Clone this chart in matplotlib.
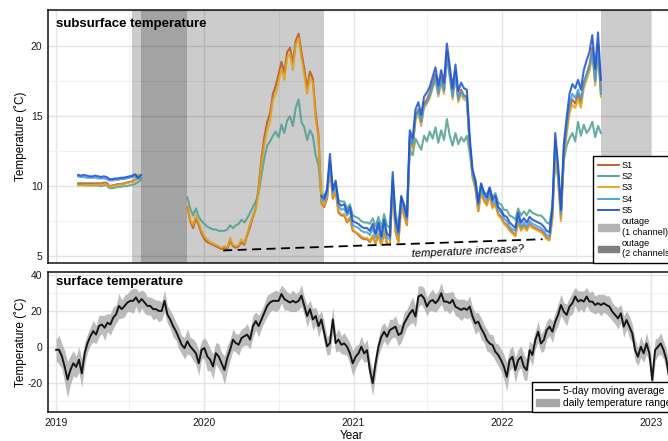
import pandas as pd
import matplotlib
matplotlib.use('Agg')
import matplotlib.pyplot as plt
import matplotlib.dates as mdates
from matplotlib.ticker import MultipleLocator
from matplotlib.lines import Line2D
from matplotlib.patches import Patch

plt.rcParams['font.family'] = ['Liberation Sans', 'DejaVu Sans']
plt.rcParams['axes.unicode_minus'] = False

# ---------------- subsurface temperature (weekly readings, degC) ----------------
start_a = '2019-02-25'   # first deployment
start_b = '2019-11-20'   # S1-S3 back after outage
start_c = '2020-10-14'   # S4, S5 back after outage

s1_a = [10.2, 10.2, 10.2, 10.2, 10.2, 10.2, 10.2, 10.2, 10.2, 10.25, 10.25, 10.0, 10.05, 10.1,
        10.15, 10.15, 10.2, 10.25, 10.3, 10.35, 10.45, 10.6, 10.55]
s2_a = [10.1, 10.1, 10.1, 10.05, 10.05, 10.05, 10.05, 10.05, 10.0, 10.05, 10.05, 9.85, 9.85, 9.9,
        9.95, 9.95, 10.0, 10.0, 10.05, 10.1, 10.15, 10.3, 10.4]
s3_a = [10.05, 10.05, 10.05, 10.05, 10.05, 10.05, 10.1, 10.1, 10.1, 10.1, 10.1, 9.95, 10.0, 10.05,
        10.1, 10.1, 10.15, 10.2, 10.25, 10.3, 10.4, 10.85, 10.7]
s4_a = [10.7, 10.65, 10.65, 10.6, 10.6, 10.6, 10.6, 10.55, 10.55, 10.55, 10.5, 10.4, 10.4, 10.45,
        10.45, 10.5, 10.5, 10.55, 10.6, 10.65, 10.7, 10.5, 10.6]
s5_a = [10.8, 10.75, 10.8, 10.75, 10.7, 10.7, 10.75, 10.7, 10.65, 10.7, 10.65, 10.5, 10.5, 10.55,
        10.55, 10.6, 10.6, 10.65, 10.7, 10.75, 10.85, 10.6, 10.8]

s1_b = [8.5, 7.5, 7.0, 7.7, 7.2, 6.6, 6.2, 6.0, 5.9, 5.8,
        5.7, 5.6, 5.5, 5.6, 5.5, 6.1, 5.7, 5.6, 5.7, 6.0,
        5.8, 6.5, 7.1, 7.8, 8.4, 9.9, 12.0, 13.5, 14.6, 15.2,
        16.6, 17.2, 18.0, 18.9, 18.1, 19.6, 19.9, 18.8, 20.4, 20.9,
        19.6, 18.4, 17.0, 18.2, 17.7, 15.2, 13.6,
        8.8, 8.5, 9.1, 11.6, 9.1, 9.6, 8.1, 7.9, 7.9, 7.4,
        7.7, 6.8, 6.7, 6.5, 6.3, 6.2, 6.2, 6.0, 6.4, 5.9,
        6.5, 5.8, 6.7, 5.9, 5.8, 10.2, 6.7, 6.0, 8.6, 7.9,
        7.2, 13.4, 12.8, 15.0, 15.5, 14.6, 15.9, 16.2, 16.7, 17.3,
        18.0, 16.7, 17.8, 16.9, 19.6, 18.1, 16.5, 18.2, 16.3, 16.9,
        16.5, 16.4, 13.0, 10.7, 9.9, 8.2, 9.6, 9.0, 8.7, 9.4,
        8.5, 8.8, 8.0, 7.8, 7.4, 7.2, 6.9, 6.7, 6.5, 7.5,
        6.9, 7.2, 6.9, 7.3, 7.1, 7.0, 6.9, 6.8, 6.6, 6.3,
        6.2, 7.8, 12.9, 10.6, 7.7, 12.3, 14.0, 15.6, 16.2, 15.9,
        16.6, 15.9, 17.4, 18.0, 18.7, 19.9, 17.6, 20.1, 16.9]
s2_b = [9.2, 8.4, 7.9, 8.4, 7.8, 7.5, 7.3, 7.1, 7.0, 6.9,
        6.9, 6.8, 6.8, 6.8, 6.9, 7.2, 7.0, 7.2, 7.3, 7.6,
        7.4, 7.7, 8.1, 8.5, 8.9, 9.5, 10.8, 12.0, 12.9, 13.2,
        13.6, 13.9, 13.5, 14.4, 13.8, 14.7, 15.0, 14.3, 15.6, 16.2,
        14.6, 14.2, 13.3, 14.0, 13.6, 12.2, 11.5,
        9.5, 9.3, 9.7, 11.6, 9.8, 10.2, 9.0, 8.9, 8.9, 8.4,
        8.7, 7.9, 7.8, 7.7, 7.5, 7.4, 7.4, 7.3, 7.7, 7.1,
        7.8, 7.0, 8.0, 7.2, 7.0, 10.2, 8.0, 7.2, 9.2, 8.7,
        8.2, 12.6, 12.2, 13.4, 13.0, 12.6, 13.6, 13.2, 13.9, 13.4,
        14.2, 13.1, 14.0, 13.3, 14.8, 13.6, 12.9, 13.8, 13.0, 13.5,
        13.2, 13.6, 12.4, 10.9, 10.4, 9.0, 10.1, 9.6, 9.4, 9.9,
        9.2, 9.5, 8.8, 8.7, 8.3, 8.3, 7.9, 7.8, 7.6, 8.4,
        7.9, 8.2, 7.9, 8.3, 8.1, 8.0, 7.9, 7.9, 7.7, 7.4,
        7.3, 8.6, 12.0, 10.8, 8.6, 11.8, 12.9, 13.4, 13.8, 13.2,
        14.6, 13.6, 14.4, 13.8, 14.1, 14.6, 13.5, 14.3, 13.8]
s3_b = [8.6, 7.6, 7.2, 7.9, 7.4, 6.8, 6.4, 6.2, 6.0, 5.9,
        5.8, 5.7, 5.6, 5.7, 5.6, 6.3, 5.8, 5.7, 5.8, 6.2,
        5.9, 6.6, 7.3, 7.9, 8.3, 9.6, 11.6, 13.0, 14.0, 14.6,
        16.2, 16.6, 17.5, 18.4, 17.6, 19.2, 19.5, 18.3, 20.1, 20.6,
        19.2, 18.0, 16.6, 17.8, 17.4, 14.8, 13.4,
        8.9, 8.6, 9.2, 11.4, 9.2, 9.7, 8.2, 8.0, 8.0, 7.5,
        7.8, 6.9, 6.7, 6.6, 6.4, 6.3, 6.3, 6.1, 6.5, 5.9,
        6.6, 5.8, 6.8, 5.9, 5.8, 10.0, 6.8, 6.0, 8.5, 7.9,
        7.2, 13.2, 12.6, 14.7, 15.2, 14.3, 15.6, 15.9, 16.3, 17.0,
        17.6, 16.4, 17.4, 16.6, 19.2, 17.8, 16.2, 17.8, 16.0, 16.6,
        16.2, 16.1, 12.9, 10.6, 9.8, 8.2, 9.5, 8.9, 8.6, 9.3,
        8.4, 8.7, 7.9, 7.7, 7.3, 7.1, 6.8, 6.6, 6.4, 7.4,
        6.8, 7.1, 6.8, 7.2, 7.0, 6.9, 6.8, 6.7, 6.5, 6.2,
        6.1, 7.7, 12.6, 10.4, 7.5, 12.0, 13.7, 15.2, 15.8, 15.6,
        16.2, 15.6, 17.0, 17.6, 18.2, 19.4, 17.2, 19.5, 16.4]
s4_c = [9.1, 8.9, 9.5, 11.8, 9.5, 10.1, 8.6, 8.3, 8.4, 7.9,
        8.2, 7.2, 7.1, 7.0, 6.8, 6.7, 6.7, 6.5, 7.0, 6.3,
        7.1, 6.2, 7.3, 6.3, 6.2, 10.5, 7.3, 6.5, 9.0, 8.3,
        7.6, 13.6, 13.0, 15.0, 15.4, 14.6, 15.8, 16.0, 16.5, 17.1,
        17.8, 16.6, 17.6, 16.8, 19.3, 17.9, 16.4, 18.0, 16.2, 16.8,
        16.4, 16.3, 13.1, 10.9, 10.1, 8.6, 9.9, 9.3, 9.0, 9.6,
        8.8, 9.0, 8.3, 8.1, 7.7, 7.5, 7.1, 6.9, 6.8, 7.8,
        7.1, 7.4, 7.1, 7.5, 7.3, 7.2, 7.1, 7.0, 6.8, 6.5,
        6.4, 8.2, 13.3, 11.1, 8.0, 12.5, 14.3, 15.9, 16.6, 16.3,
        16.9, 16.2, 17.4, 18.0, 18.5, 19.6, 17.5, 19.8, 16.6]
s5_c = [9.3, 9.1, 9.8, 12.3, 9.7, 10.4, 8.8, 8.6, 8.7, 8.1,
        8.5, 7.5, 7.4, 7.3, 7.1, 7.0, 7.0, 6.8, 7.3, 6.6,
        7.4, 6.4, 7.6, 6.6, 6.4, 11.0, 7.6, 6.7, 9.3, 8.6,
        7.8, 14.0, 13.4, 15.5, 16.0, 15.1, 16.4, 16.7, 17.1, 17.8,
        18.5, 17.2, 18.3, 17.4, 20.2, 18.6, 17.0, 18.7, 16.8, 17.4,
        17.0, 16.9, 13.5, 11.2, 10.4, 8.8, 10.2, 9.5, 9.2, 9.9,
        9.0, 9.3, 8.5, 8.3, 7.9, 7.8, 7.4, 7.2, 7.0, 8.1,
        7.4, 7.7, 7.4, 7.8, 7.6, 7.5, 7.4, 7.3, 7.1, 6.8,
        6.7, 8.5, 13.8, 11.5, 8.3, 13.0, 14.9, 16.6, 17.3, 17.0,
        17.6, 16.9, 18.3, 19.0, 19.6, 20.8, 18.4, 21.0, 17.6]

sensor_names = ['S1', 'S2', 'S3', 'S4', 'S5']
sensor_colors = ['#B9561F', '#4E9E92', '#E3A21A', '#3C9DE2', '#1D4ED0']

outage_1ch = [('2019-07-07', '2020-10-20'), ('2022-09-01', '2022-12-31')]
outage_2ch = [('2019-07-29', '2019-11-20')]

trend_dates = ['2020-02-16', '2022-04-10']
trend_vals = [5.4, 6.2]

# ---------------- surface temperature (weekly samples, degC) ----------------
surf_start = '2019-01-02'
surf_avg = [-1.5, -1.5, -5, -11, -18, -12.7, -9, -11, -7, -14.6,
            -3.4, 2.2, 6, 8.8, 6.9, 11.6, 12.5, 10.7, 13.5, 12.5,
            16.3, 18.1, 22.8, 21, 22.8, 24.7, 25.6, 25.6, 27.5, 24.7,
            26.6, 24.7, 22.8, 22.8, 21, 21, 20, 20, 25.6, 18.1,
            15.3, 11.6, 8.8, 5, 1.3, -0.6, 3.2, 0.4, -1.5, -3.4,
            -9, -1.5, -0.6, -5.2, -7, -10.8, -3.4, -5.2, -9, -12.7,
            -6.1, -1.5, 4.1, 2.2, 1.3, 5, 6, 6.9, 4.1, 11.6,
            14.4, 11.6, 15.3, 19, 22.8, 24.7, 25.6, 25.6, 25.6, 29.4,
            26.6, 25.6, 24.7, 25.6, 24.7, 25.6, 28.5, 22.8, 17.2, 21,
            15.3, 17.2, 11.6, 15.3, 7.8, 0.4, 2.2, 15.3, 2.2, 4.1,
            1.3, 2, 0.2, -3.5, -9, -5.4, -3.5, 0.2, -3.5, -1.7,
            -12.8, -20, -9, 0.2, 5.7, 8.5, 5.7, 9.4, 10.4, 11.3,
            6.7, 7.6, 13.1, 15.9, 18.7, 20.6, 16.9, 28, 28.9, 27,
            22.4, 25.2, 26.1, 24.3, 26.1, 29.8, 25.2, 25.2, 24.3, 26.1,
            22.4, 21.5, 20.6, 21.5, 20.6, 22.4, 16.9, 13.1, 14.1, 10.4,
            7.6, 3.9, 2, 1.1, -2.6, -4.4, -7.2, -10.9, -16.5, -7.2,
            -5.4, -12.8, -7.2, -5.4, -10.9, -12.8, -1.7, -4.4, 3.9, 8.5,
            2, 3.9, 9.4, 11.3, 8.5, 14.1, 17.8, 23.3, 19.6, 17.8,
            22.4, 24.3, 28, 25.2, 26.1, 25.2, 28, 25.2, 25.2, 23.3,
            24.3, 23.3, 24.3, 23.3, 22.4, 19.6, 17.8, 15.9, 18.7, 11.3,
            15, 11.3, 7.6, -1.7, -5.4, 0.2, -3.5, 2, -3.5, -18.3,
            -1.7, 0.2, 2, -1.7, -7.2, -17.4, 2, 0, -3]
# half of the daily min-max range
surf_spread = [6, 8, 7, 9, 10, 8, 7, 6, 7, 8,
               6, 5, 5, 6, 5, 6, 5, 7, 5, 6,
               6, 5, 7, 5, 6, 5, 6, 7, 5, 6,
               5, 6, 5, 5, 6, 5, 6, 5, 6, 5,
               5, 6, 5, 6, 5, 6, 7, 5, 6, 6,
               7, 5, 6, 8, 6, 7, 6, 7, 6, 8,
               7, 6, 6, 5, 6, 5, 5, 6, 5, 6,
               5, 6, 5, 5, 6, 5, 5, 6, 5, 5,
               6, 5, 5, 6, 5, 5, 6, 5, 6, 5,
               6, 5, 6, 5, 6, 5, 6, 7, 5, 6,
               5, 6, 5, 6, 7, 6, 5, 6, 5, 6,
               6, 7, 6, 5, 6, 5, 5, 6, 5, 6,
               6, 5, 6, 5, 6, 7, 6, 6, 5, 6,
               5, 5, 6, 5, 5, 6, 5, 5, 6, 5,
               5, 5, 6, 5, 5, 6, 5, 6, 5, 6,
               5, 6, 5, 6, 5, 6, 6, 7, 8, 6,
               6, 7, 6, 6, 7, 6, 5, 6, 5, 6,
               5, 6, 5, 5, 6, 5, 6, 6, 5, 6,
               5, 6, 5, 6, 5, 6, 5, 5, 6, 5,
               5, 6, 5, 5, 6, 5, 5, 6, 5, 6,
               5, 6, 5, 6, 5, 6, 5, 6, 5, 6,
               6, 5, 6, 5, 6, 6, 5, 6, 5]


def weekly(start, vals):
    return pd.Series(vals, index=pd.date_range(start, periods=len(vals), freq='7D'))


W, H = 668, 441
fig = plt.figure(figsize=(W / 100, H / 100), dpi=100)
ax1 = fig.add_axes([48 / W, 1 - 263 / H, (684 - 48) / W, 253 / H])
ax2 = fig.add_axes([48 / W, 1 - 412 / H, (684 - 48) / W, 140 / H])

for ax in (ax1, ax2):
    ax.set_xlim(pd.Timestamp('2018-12-13'), pd.Timestamp('2023-03-23'))
    ax.xaxis.set_major_locator(mdates.YearLocator())
    ax.xaxis.set_minor_locator(mdates.MonthLocator(bymonth=7))
    ax.xaxis.set_major_formatter(mdates.DateFormatter('%Y'))
    ax.set_axisbelow(True)
    ax.grid(which='major', color='#e4e4e4', lw=1.0)
    ax.grid(which='minor', color='#efefef', lw=0.6)
    ax.tick_params(which='both', length=0, labelsize=7.5, pad=4, colors='#1a1a1a')
    for sp in ax.spines.values():
        sp.set_linewidth(1.1)
        sp.set_color('#111111')

# ---- top panel ----
ax1.set_ylim(4.5, 22.6)
ax1.yaxis.set_major_locator(MultipleLocator(5))
ax1.yaxis.set_minor_locator(MultipleLocator(2.5))
ax1.tick_params(labelbottom=False)

for a, b in outage_1ch + outage_2ch:
    ax1.axvspan(pd.Timestamp(a), pd.Timestamp(b), color='black', alpha=0.2, lw=0, zorder=1)

series = [
    (s1_a, s1_b, start_b),
    (s2_a, s2_b, start_b),
    (s3_a, s3_b, start_b),
    (s4_a, s4_c, start_c),
    (s5_a, s5_c, start_c),
]
for (va, vb, sb), col in zip(series, sensor_colors):
    sa = weekly(start_a, va)
    sb_ = weekly(sb, vb)
    ax1.plot(sa.index, sa.values, color=col, lw=1.5, alpha=0.85, zorder=2)
    ax1.plot(sb_.index, sb_.values, color=col, lw=1.5, alpha=0.85, zorder=2)

ax1.plot(pd.to_datetime(trend_dates), trend_vals, color='black', lw=1.3,
         dashes=(5, 3), zorder=3)
ax1.text(pd.Timestamp('2021-10-08'), 5.35, 'temperature increase?', style='italic',
         fontsize=8, rotation=2.5, ha='center', va='center', zorder=3)

ax1.annotate('subsurface temperature', xy=(0, 1), xycoords='axes fraction',
             xytext=(8, -14), textcoords='offset pixels', fontsize=9.5,
             fontweight='bold', va='center', ha='left')
ax1.set_ylabel('Temperature (˚C)', fontsize=8.5)
ax1.yaxis.set_label_coords(-21 / 636, 0.5)

h1 = [Line2D([], [], color=c, lw=1.3) for c in sensor_colors]
h1 += [Patch(color='#b4b4b4'), Patch(color='#7f7f7f')]
l1 = sensor_names + ['outage\n(1 channel)', 'outage\n(2 channels)']
leg1 = ax1.legend(h1, l1, loc='lower left', bbox_to_anchor=((593 - 48) / 636, 0),
                  borderaxespad=0, fontsize=6.6, frameon=True, fancybox=False,
                  edgecolor='black', framealpha=1, handlelength=2.3,
                  handletextpad=0.35, labelspacing=0.25, borderpad=0.5)
leg1.get_frame().set_linewidth(1.0)
leg1.set_zorder(10)

# ---- bottom panel ----
surf = weekly(surf_start, surf_avg)
spread = weekly(surf_start, surf_spread)
ax2.set_ylim(-36, 41.6)
ax2.yaxis.set_major_locator(MultipleLocator(20))
ax2.yaxis.set_minor_locator(MultipleLocator(10))
ax2.fill_between(surf.index, surf.values - spread.values, surf.values + spread.values,
                 color='#a6a6a6', alpha=0.75, lw=0, zorder=1)
ax2.plot(surf.index, surf.values, color='#161616', lw=1.4, zorder=2)

ax2.annotate('surface temperature', xy=(0, 1), xycoords='axes fraction',
             xytext=(8, -10), textcoords='offset pixels', fontsize=9.5,
             fontweight='bold', va='center', ha='left')
ax2.set_ylabel('Temperature (˚C)', fontsize=8.5)
ax2.yaxis.set_label_coords(-21 / 636, 0.5)
ax2.set_xlabel('Year', fontsize=8.5)
ax2.xaxis.set_label_coords((352 - 48) / 636, -18 / 140)

h2 = [Line2D([], [], color='#161616', lw=1.3), Patch(color='#a6a6a6')]
l2 = ['5-day moving average', 'daily temperature range']
leg2 = ax2.legend(h2, l2, loc='lower left', bbox_to_anchor=((532 - 48) / 636, 0),
                  borderaxespad=0, fontsize=7.4, frameon=True, fancybox=False,
                  edgecolor='black', framealpha=1, handlelength=2.2,
                  handletextpad=0.4, labelspacing=0.2, borderpad=0.4)
leg2.get_frame().set_linewidth(1.0)
leg2.set_zorder(10)

fig.savefig('out.png', dpi=100)
